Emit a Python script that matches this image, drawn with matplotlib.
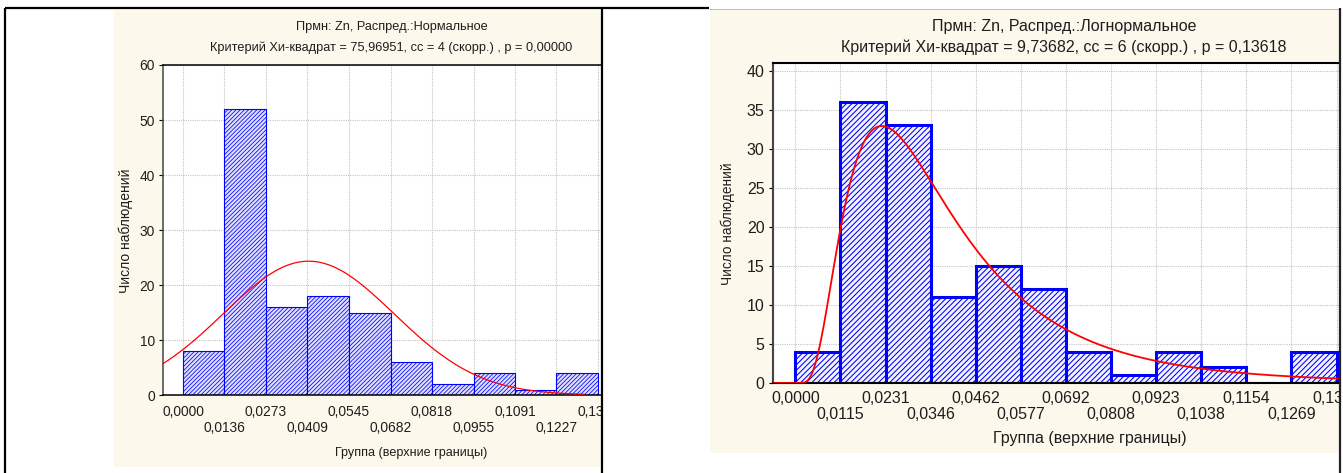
import numpy as np
import matplotlib
matplotlib.use('Agg')
import matplotlib.pyplot as plt
from matplotlib.patches import Rectangle
from matplotlib.lines import Line2D
from matplotlib.ticker import FixedLocator, FixedFormatter

W, H = 1343, 473

# left panel: normal fit
left_edges = [0.0, 0.0136, 0.0273, 0.0409, 0.0545, 0.0682, 0.0818, 0.0955,
              0.1091, 0.1227, 0.1364]
left_counts = [8, 52, 16, 18, 15, 6, 2, 4, 1, 4]
left_mean, left_sd = 0.0413, 0.0281
left_title1 = "Прмн: Zn, Распред.:Нормальное"
left_title2 = "Критерий Хи-квадрат = 75,96951, сс = 4 (скорр.) , р = 0,00000"

# right panel: lognormal fit
right_edges = [0.0, 0.0115, 0.0231, 0.0346, 0.0462, 0.0577, 0.0692, 0.0808,
               0.0923, 0.1038, 0.1154, 0.1269, 0.1385]
right_counts = [4, 36, 33, 11, 15, 12, 4, 1, 4, 2, 0, 4]
right_mu, right_s = -3.396, 0.645
right_title1 = "Прмн: Zn, Распред.:Логнормальное"
right_title2 = "Критерий Хи-квадрат = 9,73682, сс = 6 (скорр.) , р = 0,13618"

xlabel = "Группа (верхние границы)"
ylabel = "Число наблюдений"

BEIGE = '#fdf8ec'
TXT = '#1e1e1e'
FAM = ['Liberation Sans', 'DejaVu Sans']


def fx(px):
    return px / W


def fy(py):
    return 1 - py / H


def add_ax(fig, x0, y0, x1, y1):
    return fig.add_axes([fx(x0), fy(y1), (x1 - x0) / W, (y1 - y0) / H])


def fig_rect(fig, x0, y0, x1, y1, color, z):
    fig.add_artist(Rectangle((fx(x0), fy(y1)), (x1 - x0) / W, (y1 - y0) / H,
                             transform=fig.transFigure, facecolor=color,
                             edgecolor='none', zorder=z))


def fig_line(fig, xs, ys, color='black', lw=1.5, z=11):
    fig.add_artist(Line2D([fx(x) for x in xs], [fy(y) for y in ys],
                          transform=fig.transFigure, color=color, lw=lw,
                          zorder=z, solid_capstyle='butt'))


def fmt(v):
    return f"{v:.4f}".replace('.', ',')


def style_axes(ax, edges, fs, pad1, pad2, spine_lw):
    ax.xaxis.set_major_locator(FixedLocator(edges[0::2]))
    ax.xaxis.set_major_formatter(FixedFormatter([fmt(v) for v in edges[0::2]]))
    ax.xaxis.set_minor_locator(FixedLocator(edges[1::2]))
    ax.xaxis.set_minor_formatter(FixedFormatter([fmt(v) for v in edges[1::2]]))
    ax.tick_params(axis='x', which='major', bottom=True, top=True, length=0,
                   pad=pad1, labelsize=fs, labelcolor=TXT)
    ax.tick_params(axis='x', which='minor', bottom=True, top=True, length=0,
                   pad=pad2, labelsize=fs, labelcolor=TXT)
    ax.tick_params(axis='y', which='major', direction='out', length=3,
                   width=0.8, pad=3, labelsize=fs, labelcolor=TXT)
    for lab in ax.get_xticklabels(which='both') + ax.get_yticklabels():
        lab.set_family(FAM)
    ax.grid(True, which='both', color='#c4c4c4', linestyle=(0, (1, 1)),
            linewidth=0.8, zorder=0)
    ax.set_axisbelow(True)
    for sp in ax.spines.values():
        sp.set_linewidth(spine_lw)
        sp.set_color('black')
    ax.spines['left'].set_color('#444444')


fig = plt.figure(figsize=(W / 100, H / 100), dpi=100)
fig.patch.set_facecolor('white')

# panel backgrounds
fig_rect(fig, 114, 10, 602, 467, BEIGE, -1)
fig_rect(fig, 710, 10, 1340, 453, BEIGE, -1)

# ---------- left panel ----------
step_l = left_edges[1] - left_edges[0]
axl = add_ax(fig, 163, 65, 618, 395)
widths = np.diff(left_edges)
bars = axl.bar(left_edges[:-1], left_counts, width=widths, align='edge',
               facecolor='#dedeff', edgecolor='#0000ff', linewidth=0.8,
               hatch='////////', zorder=2)
for b in bars:
    if hasattr(b, 'set_hatch_linewidth'):
        b.set_hatch_linewidth(0.55)
xl0 = -0.482 * step_l
xl1 = left_edges[-1] + 0.482 * step_l
xs = np.linspace(xl0, 0.1318, 400)
n_l = sum(left_counts)
ys = n_l * step_l / (left_sd * np.sqrt(2 * np.pi)) * np.exp(-(xs - left_mean) ** 2 / (2 * left_sd ** 2))
axl.plot(xs, ys, color='#ff0000', lw=0.9, zorder=3, clip_on=False)
axl.set_xlim(xl0, xl1)
axl.set_ylim(0, 60)
axl.set_yticks(range(0, 61, 10))
style_axes(axl, left_edges, 9.9, 7.0, 18.5, 1.1)

fig.text(fx(391.5), fy(27), left_title1, ha='center', va='center',
         fontsize=9.2, family=FAM, color=TXT)
fig.text(fx(391.5), fy(48), left_title2, ha='center', va='center',
         fontsize=9.2, family=FAM, color=TXT)
fig.text(fx(411), fy(453), xlabel, ha='center', va='center',
         fontsize=9.1, family=FAM, color=TXT)
fig.text(fx(126), fy(231), ylabel, ha='center', va='center', rotation=90,
         fontsize=10, family=FAM, color=TXT)

# ---------- right panel ----------
step_r = right_edges[1] - right_edges[0]
axr = add_ax(fig, 773, 63, 1359, 383)
widths = np.diff(right_edges)
bars = axr.bar(right_edges[:-1], right_counts, width=widths, align='edge',
               facecolor='#f4f4ff', edgecolor='#0000ff', linewidth=2.2,
               hatch='//////', zorder=2)
for b in bars:
    if hasattr(b, 'set_hatch_linewidth'):
        b.set_hatch_linewidth(0.75)
xr0 = -0.5 * step_r
xr1 = right_edges[-1] + 0.5 * step_r
xs = np.linspace(xr0, xr1, 600)
n_r = sum(right_counts)
pos = np.clip(xs, 1e-6, None)
ys = n_r * step_r / (pos * right_s * np.sqrt(2 * np.pi)) * np.exp(-(np.log(pos) - right_mu) ** 2 / (2 * right_s ** 2))
ys[xs <= 0] = 0
axr.plot(xs, ys, color='#ff0000', lw=1.3, zorder=3)
axr.set_xlim(xr0, xr1)
axr.set_ylim(0, 41)
axr.set_yticks(range(0, 41, 5))
style_axes(axr, right_edges, 11.5, 6.0, 17.5, 1.5)

fig.text(fx(1064), fy(27), right_title1, ha='center', va='center',
         fontsize=11.5, family=FAM, color=TXT)
fig.text(fx(1064), fy(47), right_title2, ha='center', va='center',
         fontsize=11.5, family=FAM, color=TXT)
fig.text(fx(1090), fy(438), xlabel, ha='center', va='center',
         fontsize=11.5, family=FAM, color=TXT)
fig.text(fx(728), fy(224), ylabel, ha='center', va='center', rotation=90,
         fontsize=9.8, family=FAM, color=TXT)

# crop overlays and table borders
fig_rect(fig, 603, 0, 710, 473, 'white', 10)
fig_rect(fig, 1340, 0, 1343, 473, 'white', 10)
fig_line(fig, [5, 709], [8, 8], lw=1.6)
fig_line(fig, [5, 5], [8, 473], lw=1.6)
fig_line(fig, [602, 602], [8, 473], lw=1.6)
fig_line(fig, [709, 1340], [9, 9], color='#b0b0b0', lw=0.6)
fig_line(fig, [1340, 1340], [8, 473], color='#222222', lw=1.6)

fig.savefig('out.png', dpi=100)
